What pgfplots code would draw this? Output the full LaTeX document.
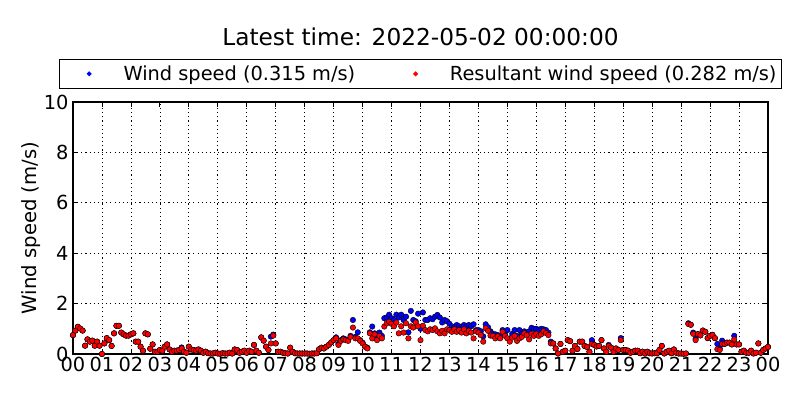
\documentclass[border=0pt]{standalone}
\usepackage{fontspec}
\setmainfont{DejaVu Sans}
\usepackage{pgfplots}
\usepackage{pgfplotstable}
\pgfplotsset{compat=1.18}
\pgfplotstableread[row sep=\\]{
m r b\\
0 .75 .75\\5 .93 .93\\10 1.08 1.08\\15 1.01 1.01\\20 .93 .93\\25 .33 .33\\30 .58 .58\\35 .49 .49\\40 .53 .53\\45 .33 .33\\50 .49 .49\\55 .33 .33\\
60 0 0\\65 .42 .42\\70 .63 .63\\75 .55 .55\\80 .32 .32\\85 .82 .82\\90 1.12 1.12\\95 1.12 1.12\\100 .85 .85\\105 .78 .78\\110 .73 .73\\115 .73 .73\\
120 .78 .78\\125 .82 .82\\130 .49 .49\\135 .49 .49\\140 .29 .29\\145 .13 .13\\150 .82 .82\\155 .78 .78\\160 .21 .21\\165 .38 .38\\170 .09 .09\\175 .09 .09\\
180 .16 .16\\185 .13 .13\\190 .29 .29\\195 .38 .38\\200 .18 .18\\205 .09 .09\\210 .13 .13\\215 .13 .13\\220 .16 .16\\225 .22 .26\\230 .09 .09\\235 .05 .05\\
240 .29 .29\\245 .18 .18\\250 .16 .16\\255 .13 .13\\260 .18 .18\\265 .13 .13\\270 .05 .05\\275 .09 .09\\280 .03 .03\\285 .02 .02\\290 .02 .02\\295 .05 .05\\
300 .02 .02\\305 .01 .01\\310 .03 .03\\315 .02 .02\\320 .02 .02\\325 .05 .05\\330 .02 .02\\335 .18 .18\\340 .16 .16\\345 .05 .05\\350 .09 .09\\355 .13 .13\\
360 .05 .05\\365 .13 .13\\370 .09 .09\\375 .36 .36\\380 .13 .13\\385 .05 .05\\390 .66 .66\\395 .53 .53\\400 .29 .29\\405 .16 .16\\410 .42 .69\\415 .73 .77\\
420 .42 .42\\425 .09 .09\\430 .09 .09\\435 .05 .05\\440 .03 .03\\445 .02 .02\\450 .25 .25\\455 .09 .09\\460 .03 .03\\465 .02 .02\\470 .02 .02\\475 .02 .02\\
480 .02 .02\\485 .02 .02\\490 .01 .01\\495 .02 .02\\500 .02 .02\\505 .03 .03\\510 .19 .19\\515 .25 .25\\520 .22 .22\\525 .29 .29\\530 .36 .36\\535 .46 .46\\
540 .55 .55\\545 .62 .66\\550 .36 .40\\555 .52 .55\\560 .58 .62\\565 .55 .58\\570 .52 .55\\575 .68 .72\\580 1.05 1.35\\585 .62 .68\\590 .62 .86\\595 .52 .55\\
600 .42 .45\\605 .29 .30\\610 .22 .25\\615 .82 .86\\620 .62 1.09\\625 .78 .82\\630 .55 .62\\635 .72 .85\\640 .62 .72\\645 1.09 1.42\\650 1.22 1.45\\655 1.28 1.56\\
660 1.20 1.42\\665 1.10 1.35\\670 1.25 1.56\\675 .82 1.45\\680 1.10 1.56\\685 .85 1.35\\690 1.22 1.48\\695 .62 .86\\700 1.10 1.71\\705 1.05 1.35\\710 1.25 1.30\\715 1.10 1.60\\
720 .55 1.00\\725 1.12 1.65\\730 .95 1.35\\735 .90 1.35\\740 .98 1.42\\745 .95 1.38\\750 1.02 1.48\\755 .90 1.55\\760 .82 1.45\\765 .92 1.25\\770 .82 1.35\\775 .98 1.30\\
780 .95 1.20\\785 .88 1.10\\790 .98 1.06\\795 .88 1.15\\800 .95 1.10\\805 .85 1.06\\810 .98 1.15\\815 .82 1.10\\820 .92 1.15\\825 .85 1.10\\830 .62 1.18\\835 .90 .95\\
840 .85 .95\\845 .75 .90\\850 .49 .70\\855 1.02 1.18\\860 .92 1.06\\865 .73 .90\\870 .72 .80\\875 .62 .78\\880 .70 .75\\885 .62 .70\\890 .88 .95\\895 .72 .80\\
900 .62 .95\\905 .49 .62\\910 .65 .80\\915 .72 .95\\920 .52 .72\\925 .62 .95\\930 .68 .80\\935 .82 .90\\940 .75 .85\\945 .58 .90\\950 .80 1.04\\955 .72 1.00\\
960 .80 1.00\\965 .72 .95\\970 .78 1.00\\975 .90 .98\\980 .83 .95\\985 .75 .85\\990 .42 .49\\995 .42 .42\\1000 .22 .22\\1005 .02 .02\\1010 .40 .40\\1015 .09 .09\\
1020 .13 .13\\1025 .55 .55\\1030 .51 .51\\1035 .13 .13\\1040 .32 .32\\1045 .20 .20\\1050 .49 .49\\1055 .49 .49\\1060 .32 .32\\1065 .28 .28\\1070 .09 .09\\1075 .40 .55\\
1080 .36 .36\\1085 .30 .30\\1090 .32 .32\\1095 .55 .55\\1100 .22 .22\\1105 .09 .09\\1110 .32 .36\\1115 .25 .25\\1120 .09 .09\\1125 .22 .22\\1130 .16 .16\\1135 .55 .63\\
1140 .16 .16\\1145 .16 .16\\1150 .13 .13\\1155 .05 .05\\1160 .09 .09\\1165 .13 .13\\1170 .13 .13\\1175 .03 .03\\1180 .09 .09\\1185 .02 .02\\1190 .09 .09\\1195 .03 .03\\
1200 .02 .02\\1205 .03 .03\\1210 .03 .03\\1215 .16 .16\\1220 .32 .32\\1225 .02 .02\\1230 .09 .09\\1235 .13 .13\\1240 .03 .03\\1245 .18 .18\\1250 .05 .05\\1255 .02 .02\\
1260 .02 .02\\1265 .01 .01\\1270 .02 .02\\1275 1.19 1.22\\1280 1.16 1.16\\1285 .80 .85\\1290 .55 .60\\1295 .79 .79\\1300 .74 .74\\1305 .93 .93\\1310 .88 .88\\1315 .63 .63\\
1320 .72 .72\\1325 .76 .76\\1330 .63 .63\\1335 .19 .40\\1340 .16 .22\\1345 .40 .53\\1350 .40 .40\\1355 .45 .45\\1360 .45 .45\\1365 .38 .38\\1370 .58 .72\\1375 .38 .38\\
1380 .38 .38\\1385 .09 .09\\1390 .13 .13\\1395 .05 .05\\1400 .05 .05\\1405 .13 .13\\1410 .02 .02\\1415 .05 .05\\1420 .42 .42\\1425 .05 .05\\1430 .16 .16\\1435 .22 .22\\1440 .28 .28\\
}\winddata
\begin{document}
\begin{tikzpicture}
\useasboundingbox (-0.73in,-0.46in) rectangle (7.27in,3.54in);
\begin{axis}[
  scale only axis, width=6.95in, height=2.52in,
  at={(0,0)}, anchor=south west,
  xmin=0, xmax=1440, ymin=0, ymax=10,
  xtick={0,60,...,1440},
  xticklabels={00,01,02,03,04,05,06,07,08,09,10,11,12,13,14,15,16,17,18,19,20,21,22,23,00},
  ytick={0,2,4,6,8,10},
  tick align=inside, major tick length=0.055in,
  tick style={black, line width=0.6pt},
  axis line style={line width=0.8pt},
  grid=major,
  major grid style={black, line width=0.5pt, dash pattern=on 0.8pt off 2.2pt},
  ticklabel style={font=\fontsize{14}{16}\selectfont},
  xticklabel style={inner xsep=0pt, inner ysep=2pt},
  yticklabel style={inner xsep=3pt},
  /pgf/number format/assume math mode=true,
  ylabel={Wind speed (m/s)},
  ylabel style={font=\fontsize{14.2}{16}\selectfont},
  ylabel shift=-0.06in,
  title={Latest time: 2022-05-02 00:00:00},
  title style={font=\fontsize{16.8}{19}\selectfont, at={(0.5,1)}, anchor=base, yshift=0.48in},
  legend columns=2,
  legend cell align=left,
  legend style={at={(0.5,1)}, anchor=south, yshift=0.13in, draw=black, line width=0.8pt,
    font=\fontsize{14}{16}\selectfont, inner xsep=1.5pt, inner ysep=2.5pt,
    /tikz/every even column/.append style={column sep=0.30in}},
]
\addplot[only marks, mark=*, mark size=2pt, mark options={fill=blue, draw=black, line width=0.3pt},
  legend image code/.code={\fill[blue] (0.27in,0) circle (0.018in); \path (0,-0.05in) (0.58in,0.05in);}]
  table[x=m, y=b] {\winddata};
\addlegendentry{Wind speed (0.315 m/s)}
\addplot[only marks, mark=*, mark size=2pt, mark options={fill=red, draw=black, line width=0.3pt},
  legend image code/.code={\fill[red] (0.27in,0) circle (0.018in); \path (0,-0.05in) (0.58in,0.05in);}]
  table[x=m, y=r] {\winddata};
\addlegendentry{Resultant wind speed (0.282 m/s)}
\end{axis}
\end{tikzpicture}
\end{document}
